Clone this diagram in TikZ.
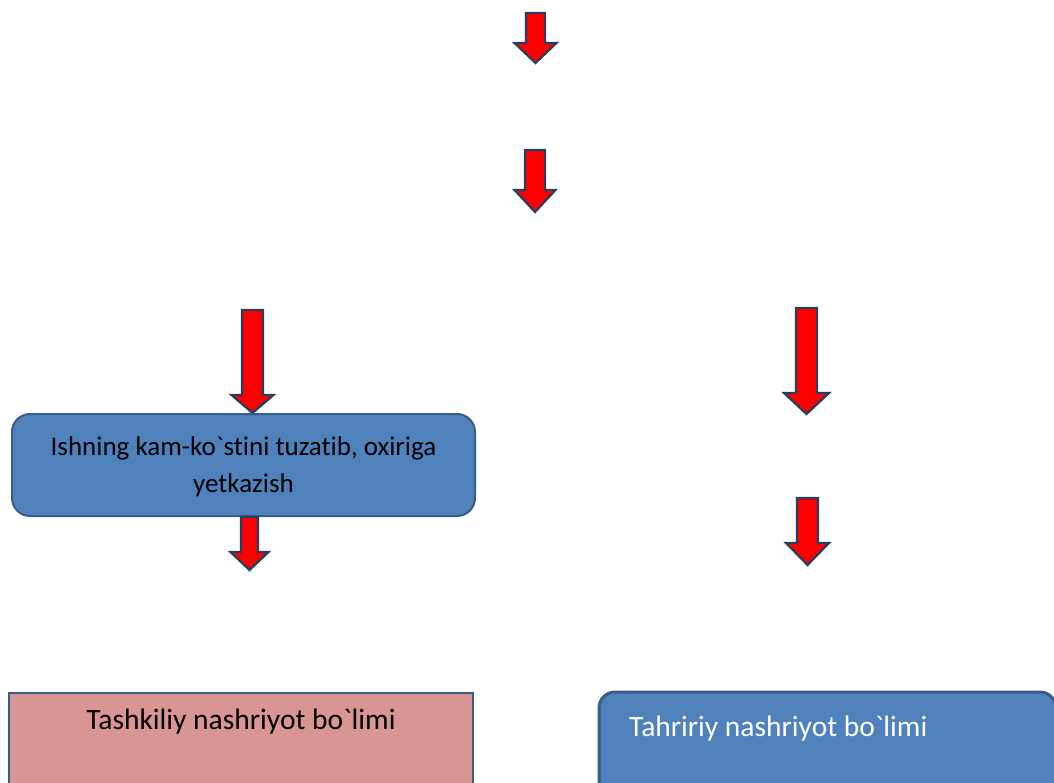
\documentclass[tikz,border=0pt]{standalone}
\usepackage{fontspec}
\setmainfont{Carlito}[Ligatures={TeXOff,NoCommon}]
\definecolor{arrred}{HTML}{FF0000}
\definecolor{arrline}{HTML}{243F60}
\definecolor{boxblue}{HTML}{4F81BD}
\definecolor{boxline}{HTML}{385D8A}
\definecolor{boxpink}{HTML}{D99594}
\newcommand\redblockarrow[7]{%
  \path[blockarrow] ({#2-#6},#3) -- ({#2+#6},#3) -- ({#2+#6},#4) -- ({#2+#7},#4)
    -- (#2,#5) coordinate (#1) -- ({#2-#7},#4) -- ({#2-#6},#4) -- cycle;}
\begin{document}
\begin{tikzpicture}[x=1pt,y=-1pt,
  blockarrow/.style={fill=arrred,draw=arrline,line width=2.2pt,line join=miter},
  bluebox/.style={fill=boxblue,draw=boxline,line width=2pt,rounded corners=18pt},
  pinkbox/.style={fill=boxpink,draw=boxline,line width=2pt},
  label/.style={font=\fontsize{27}{37}\selectfont,inner sep=0pt},
  biglabel/.style={font=\fontsize{29.5}{36}\selectfont,inner sep=0pt}]
\useasboundingbox (0,0) rectangle (1054,783);
\clip (0,0) rectangle (1054,783);
% arrows
\redblockarrow{a1}{535.5}{13}{43}{63}{9.5}{21}
\redblockarrow{a2}{535}{150}{190}{212}{10}{20.5}
\redblockarrow{a3}{252.5}{310}{395}{413}{10.5}{21}
\redblockarrow{a4}{806.5}{308}{393}{414}{10.5}{22.5}
\redblockarrow{a5}{807.5}{498}{543}{565}{10.5}{21.5}
% box 1
\path[bluebox] (12,414) rectangle (475,516);
\node[label,align=center,text=black] (t1) at (243.5,467) {Ishning kam-ko`stini tuzatib, oxiriga\\yetkazish};
\redblockarrow{a6}{249.5}{517}{552}{570}{8.5}{19}
% bottom boxes
\path[pinkbox] (9,693) rectangle (473,800);
\node[biglabel,text=black] (t2) at (241,722) {Tashkiliy nashriyot bo`limi};
\path[bluebox,line width=3pt,rounded corners=16pt] (599,692) rectangle (1056,800);
\node[biglabel,text=white,anchor=west] (t3) at (629,729) {Tahririy nashriyot bo`limi};
\end{tikzpicture}
\end{document}
